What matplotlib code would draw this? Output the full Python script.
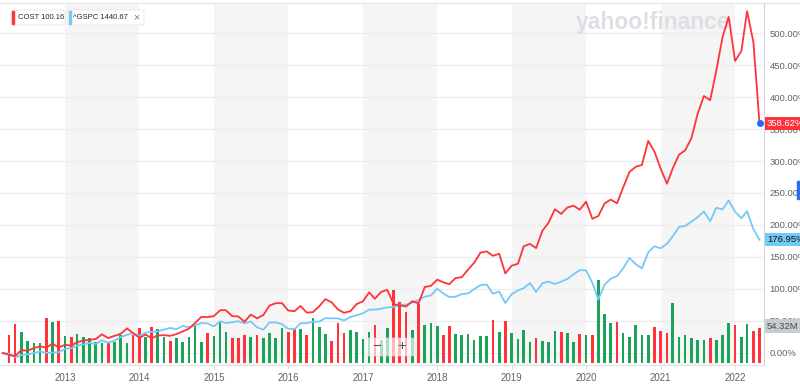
import matplotlib
matplotlib.use('Agg')
import matplotlib.pyplot as plt
import matplotlib.transforms as mtransforms
from matplotlib.patches import Rectangle, FancyBboxPatch
from matplotlib.lines import Line2D
import pandas as pd

plt.rcParams['font.family'] = ['Liberation Sans', 'DejaVu Sans']

# monthly points, Mar 2012 .. May 2022 (% change from first point)
line_months = pd.date_range('2012-03-01', '2022-05-01', freq='MS')
cost_pct = [
    0, -2.9, -4.9, 4.6, 3.5, 7.7, 10.3, 8.4, 14.5, 8.7,
    12.7, 11.5, 16.9, 19.4, 20.6, 21.8, 29.1, 23.3, 26.8, 30.0, 38.3, 31.1,
    23.7, 28.8, 23.0, 27.4, 27.8, 26.8, 29.4, 33.6, 38.0, 46.9, 56.5, 56.1,
    57.5, 66.8, 66.9, 57.6, 57.1, 48.7, 60.0, 54.2, 59.2, 74.1, 77.8, 77.9,
    66.4, 65.3, 73.5, 63.1, 63.8, 73.0, 84.2, 79.1, 68.0, 62.8, 65.3, 76.3,
    80.6, 94.7, 84.7, 95.5, 98.6, 76.1, 74.6, 72.6, 80.9, 77.4, 103.1, 105.0,
    114.6, 110.3, 107.5, 117.1, 118.3, 130.2, 140.9, 156.8, 158.7, 151.8, 155.0, 124.3,
    136.4, 139.4, 166.7, 170.4, 163.9, 191.0, 203.5, 224.6, 217.3, 227.2, 230.2, 223.7,
    236.5, 209.7, 214.0, 233.7, 239.7, 233.9, 258.5, 282.9, 291.0, 293.8, 331.4, 315.0,
    288.1, 264.5, 288.2, 309.8, 316.6, 335.8, 373.3, 401.6, 394.9, 441.4, 494.0, 525.2,
    456.3, 471.8, 534.2, 485.6, 358.62,
]
gspc_pct = [
    0, -0.75, -6.97, -3.29, -2.07, -0.13, 2.29, 0.26, 0.55, 1.26,
    6.36, 7.54, 11.41, 13.43, 15.78, 14.04, 19.68, 15.94, 19.39, 24.71, 28.21, 31.23,
    26.56, 32.02, 32.93, 33.76, 36.57, 39.17, 37.08, 42.24, 40.03, 43.28, 46.80, 46.18,
    41.64, 49.42, 46.82, 48.07, 49.62, 46.48, 49.37, 40.02, 36.32, 47.63, 47.71, 45.12,
    37.76, 37.19, 46.24, 46.63, 48.88, 49.02, 54.32, 54.13, 53.94, 50.95, 56.11, 58.95,
    61.80, 67.82, 67.75, 69.28, 71.24, 72.06, 75.39, 75.48, 78.87, 82.84, 87.98, 89.82,
    100.49, 92.68, 87.50, 88.01, 92.07, 93.00, 99.95, 106.01, 106.89, 92.53, 95.97, 77.98,
    91.99, 97.70, 101.24, 109.15, 95.39, 108.86, 111.60, 107.78, 111.35, 115.66, 123.01, 129.38,
    129.01, 109.75, 83.50, 106.78, 116.14, 120.12, 132.25, 148.52, 138.77, 132.16, 157.13, 166.68,
    163.71, 170.59, 182.07, 196.86, 198.49, 205.12, 212.06, 221.11, 205.83, 226.98, 224.25, 238.39,
    220.60, 210.54, 221.65, 193.36, 176.95,
]

# COST monthly volume (millions), Apr 2012 .. May 2022
vol_months = pd.date_range('2012-04-01', '2022-05-01', freq='MS')
cost_vol = [
    43.6, 60.1, 48.8, 34.3, 30.8, 31.9, 70.4, 63.1, 65.1,
    42.0, 41.1, 44.7, 40.0, 39.6, 33.4, 30.8, 33.4, 33.4, 43.6, 31.9, 43.6,
    55.0, 41.1, 55.4, 52.4, 41.1, 34.3, 38.5, 33.4, 40.0, 59.0, 33.4, 47.3,
    42.0, 64.2, 48.8, 39.6, 39.6, 43.6, 40.0, 43.6, 38.5, 46.2, 39.6, 53.9,
    48.8, 53.9, 52.4, 43.6, 69.3, 56.5, 45.1, 34.3, 61.6, 46.2, 51.3, 47.7,
    37.0, 47.7, 59.0, 35.4, 53.9, 112.9, 93.9, 79.6, 51.3, 90.9, 59.0, 61.6,
    57.4, 43.6, 57.4, 44.7, 43.6, 45.1, 35.9, 42.0, 42.0, 66.7, 47.7, 65.1,
    46.2, 37.4, 51.3, 33.4, 39.6, 34.3, 32.3, 49.7, 48.2, 47.3, 32.8, 45.1,
    43.6, 43.6, 127.8, 75.9, 61.6, 63.1, 46.2, 40.0, 59.6, 43.6, 43.6, 55.4,
    49.7, 47.3, 93.5, 41.1, 43.6, 39.6, 36.2, 35.9, 39.6, 35.9, 43.6, 61.6,
    58.5, 41.1, 60.5, 50.1, 54.32,
]
vol_dir = list(
    "RRGGGGRGR"
    "GRGGGGGRGGGR"
    "RGRGGRGGGGGR"
    "GGGRRRGRGGGG"
    "RRGRGGGRRRGG"
    "GGRGGRRRGRGG"
    "GRRGGGGGGRGR"
    "GGGGRGGGRGGR"
    "GRGGGRGGGGGR"
    "RRGGGGGGRGGG"
    "RGGRR"
)

pct_ticks = list(range(0, 501, 50))
year_ticks = list(range(2013, 2023))
shaded_years = [2013, 2015, 2017, 2019, 2021]

RED = '#ff333a'
BLUE = '#74c9f7'
GREEN = '#1ba35a'
GREY_TXT = '#5b636a'

W, H = 800, 384
fig = plt.figure(figsize=(W / 100, H / 100), dpi=100, facecolor='white')
rect = [0, (H - 364.5) / H, 764 / W, 361.5 / H]

ax_vol = fig.add_axes(rect)
ax = fig.add_axes(rect, sharex=ax_vol)
ax.patch.set_visible(False)

xmin, xmax = pd.Timestamp('2012-02-17'), pd.Timestamp('2022-05-23')
ax.set_xlim(xmin, xmax)
ax.set_ylim(-18, 546.9)
ax_vol.set_ylim(-1.8, 554)
ax_vol.axis('off')

# background bands, grid, watermark
for yr in shaded_years:
    ax_vol.axvspan(pd.Timestamp(f'{yr}-01-01'), pd.Timestamp(f'{yr + 1}-01-01'),
                   color='#f5f5f5', lw=0, zorder=0)
trans = mtransforms.blended_transform_factory(ax_vol.transAxes, ax.transData)
for v in pct_ticks:
    ax_vol.plot([0, 1], [v, v], transform=trans, color='#ececec', lw=0.8, zorder=0.5)
ax_vol.text(576 / W, 1 - 22 / H, 'yahoo!finance', transform=fig.transFigure,
            fontsize=16.5, weight='bold', color='#dcdfe3', ha='left', va='center', zorder=1)

bar_colors = [GREEN if d == 'G' else RED for d in vol_dir]
ax_vol.bar(vol_months, cost_vol, width=13, color=bar_colors, zorder=2)

# lines
ax.plot(line_months, gspc_pct, color=BLUE, lw=1.3, zorder=3)
ax.plot(line_months, cost_pct, color=RED, lw=1.3, zorder=4)
ax.plot(line_months[-1], cost_pct[-1], 'o', color='#1a6dff', ms=4, zorder=5)

# axes styling
ax.yaxis.tick_right()
ax.set_yticks(pct_ticks)
ax.set_yticklabels([f'{v:.2f}%' for v in pct_ticks])
ax.tick_params(axis='y', length=0, pad=4, labelsize=6.8, labelcolor=GREY_TXT)
ax.set_xticks([pd.Timestamp(f'{y}-01-01') for y in year_ticks])
ax.set_xticklabels([str(y) for y in year_ticks])
ax.tick_params(axis='x', length=3, color='#dddddd', pad=3, labelsize=7, labelcolor=GREY_TXT)
ax.spines['left'].set_visible(False)
ax.spines['top'].set_color('#e3e3e3')
ax.spines['bottom'].set_color('#e3e3e3')
ax.spines['right'].set_color('#d6d6d6')
for s in ax.spines.values():
    s.set_linewidth(0.8)
# top border continues over the price scale
fig.lines.append(Line2D([764 / W, 1], [1 - 3 / H, 1 - 3 / H], transform=fig.transFigure,
                        color='#e3e3e3', lw=0.8))

# value tags on the right axis
ytag = ax.get_yaxis_transform()
ax.text(1.004, cost_pct[-1], f'{cost_pct[-1]:.2f}%', transform=ytag, ha='left', va='center',
        fontsize=6.8, color='white', zorder=6, clip_on=False,
        bbox=dict(boxstyle='square,pad=0.22', fc=RED, ec='none'))
ax.text(1.004, gspc_pct[-1], f'{gspc_pct[-1]:.2f}%', transform=ytag, ha='left', va='center',
        fontsize=6.8, color='#101518', zorder=6, clip_on=False,
        bbox=dict(boxstyle='square,pad=0.22', fc=BLUE, ec='none'))
vtag = mtransforms.blended_transform_factory(ax.transAxes, ax_vol.transData)
ax.text(1.004, cost_vol[-1] + 3, f'{cost_vol[-1]:.2f}M', transform=vtag, ha='left', va='center',
        fontsize=6.8, color='#464e56', zorder=6, clip_on=False,
        bbox=dict(boxstyle='square,pad=0.22', fc='#c9cbce', ec='none'))

# legend chips
def px(x, y):
    return x / W, 1 - y / H

fig.patches.append(FancyBboxPatch(px(11, 25), 54 / W, 15 / H, boxstyle='round,pad=0,rounding_size=0.004',
                                  transform=fig.transFigure, fc='white', ec='#e6e6e6', lw=0.6))
fig.patches.append(Rectangle(px(11.5, 24), 2 / W, 13 / H, transform=fig.transFigure, color=RED))
fig.text(*px(18, 17.5), 'COST 100.16', fontsize=5.5, color='#232a31', ha='left', va='center')
fig.patches.append(FancyBboxPatch(px(68, 25), 76 / W, 15 / H, boxstyle='round,pad=0,rounding_size=0.004',
                                  transform=fig.transFigure, fc='white', ec='#e6e6e6', lw=0.6))
fig.patches.append(Rectangle(px(68.5, 24), 2 / W, 13 / H, transform=fig.transFigure, color=BLUE))
fig.text(*px(73, 17.5), '^GSPC 1440.67', fontsize=5.5, color='#232a31', ha='left', va='center')
fig.text(*px(136, 17.5), '×', fontsize=7.5, color='#7b7f83', ha='center', va='center')

# zoom control overlay
fig.patches.append(FancyBboxPatch(px(365, 356), 50 / W, 18 / H, boxstyle='round,pad=0,rounding_size=0.004',
                                  transform=fig.transFigure, fc='white', ec='#e2e2e2', lw=0.6,
                                  alpha=0.65, zorder=5))
fig.text(*px(377, 346), '−', fontsize=11, color='#555b61', ha='center', va='center', zorder=6)
fig.text(*px(402, 346), '+', fontsize=11, color='#555b61', ha='center', va='center', zorder=6)

# scroll marker at the right edge
fig.patches.append(Rectangle(px(797, 199), 3 / W, 18 / H, transform=fig.transFigure, color='#2b6df0'))

fig.savefig('out.png', dpi=100, facecolor='white')
